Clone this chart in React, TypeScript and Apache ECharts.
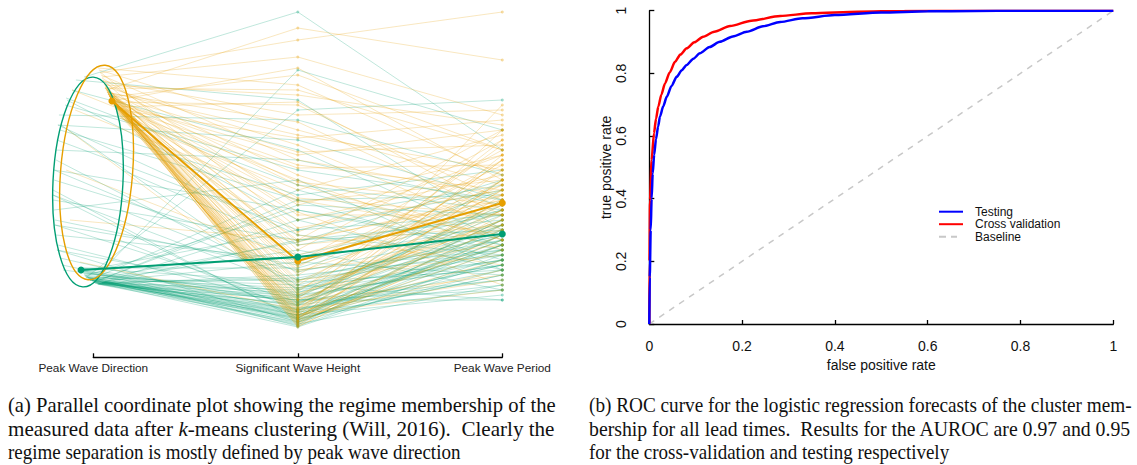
import React, { useEffect, useRef } from "react";
import * as echarts from "echarts";

// ---------- Left panel: parallel coordinates ----------
const AXES = ["Peak Wave Direction", "Significant Wave Height", "Peak Wave Period"];

// Regime 1 (orange): start point on the direction "ellipse" (axis-offset, value), then Hs, Tp (normalised 0-320)
const orangeDirX = [0.091, 0.082, 0.072, 0.101, 0.062, 0.106, 0.087, 0.077, 0.096, 0.052, 0.116, 0.067, 0.091, 0.082, 0.057, 0.111, 0.072, 0.047, 0.091, 0.121, 0.062, 0.033, 0.101, 0.077, 0.043, 0.087, 0.131, 0.067, 0.052, 0.096, 0.038, 0.082, 0.062, 0.106, 0.028, 0.072, 0.047, 0.091, 0.057, 0.023, 0.082, 0.043, 0.067, 0.033, -0.124, -0.133, -0.114, -0.089, -0.065, -0.104, 0.101, 0.087, 0.077, 0.096, 0.072, 0.111, 0.057, 0.091, 0.082, 0.062,
  0.077, 0.087, 0.096, 0.067, 0.106, 0.057, 0.091, 0.082, 0.072, 0.101, 0.077, 0.087, 0.096, 0.067, 0.106, 0.057, 0.091, 0.082, 0.072, 0.101, 0.077, 0.087, 0.096, 0.067, 0.106, 0.057, 0.091, 0.082, 0.072, 0.101];
const orangeDir = [229, 233, 237, 226, 242, 222, 231, 235, 228, 246, 218, 240, 230, 234, 244, 220, 238, 250, 227, 215, 241, 258, 224, 236, 252, 232, 212, 239, 247, 225, 255, 235, 243, 221, 260, 237, 249, 228, 245, 262, 233, 253, 240, 257, 200, 160, 110, 220, 68, 240, 225, 230, 234, 227, 236, 219, 243, 229, 232, 240,
  234, 231, 227, 238, 223, 242, 229, 233, 236, 226, 234, 231, 227, 238, 223, 242, 229, 233, 236, 226, 234, 231, 227, 238, 223, 242, 229, 233, 236, 226];
const orangeHs = [10, 12, 15, 18, 20, 8, 25, 30, 14, 35, 40, 45, 50, 55, 60, 68, 75, 80, 85, 90, 95, 102, 110, 118, 125, 132, 140, 148, 155, 162, 170, 178, 185, 192, 200, 208, 215, 225, 235, 245, 255, 273, 302, 290, 30, 70, 90, 130, 20, 150, 12, 22, 28, 33, 7, 16, 38, 42, 65, 5,
  6, 9, 4, 11, 13, 17, 19, 23, 26, 3, 31, 36, 48, 58, 63, 72, 88, 98, 115, 128, 145, 165, 175, 195, 228, 240, 262, 9, 14, 21];
const orangeTp = [80, 110, 70, 130, 50, 90, 140, 100, 60, 120, 150, 160, 75, 170, 85, 180, 130, 190, 105, 200, 65, 140, 155, 45, 175, 115, 195, 125, 90, 165, 135, 185, 100, 210, 145, 115, 220, 130, 205, 155, 180, 215, 270, 318, 110, 145, 130, 95, 170, 80, 135, 95, 55, 125, 150, 40, 185, 105, 135, 120,
  115, 150, 95, 175, 130, 85, 160, 120, 140, 105, 190, 110, 145, 125, 165, 100, 135, 175, 115, 150, 90, 140, 200, 160, 120, 180, 150, 200, 225, 170];

// Regime 2 (green)
const greenDirX = [-0.06, -0.041, -0.016, 0.008, 0.033, -0.026, -0.006, 0.018, -0.05, 0.043, -0.036, 0.003, 0.028, -0.065, 0.057, -0.021, -0.011, -0.045, 0.013, -0.031, -0.001, 0.023, -0.055, 0.038, -0.041, 0.008, -0.016, 0.047, -0.026, 0.003, -0.187, -0.197, -0.182, -0.163, -0.138, -0.104, -0.173, -0.192, -0.153, -0.178, -0.168, -0.085, -0.045, -0.192, -0.182, -0.158, -0.129, -0.197, -0.187, -0.148, 0.14, 0.135, 0.126, 0.145, -0.006, -0.031, 0.008, 0.028, -0.045, 0.018,
  -0.055, -0.036, -0.016, 0.003, 0.023, 0.043, -0.065, 0.052, -0.055, -0.036, -0.016, 0.003, 0.023, 0.043, -0.065, 0.052, -0.187, -0.192, -0.173, -0.197, -0.178, -0.133, -0.163, -0.187, -0.192, -0.173, -0.197, -0.178, -0.016, 0.003];
const greenDir = [60, 54, 50, 47, 46, 52, 49, 46, 57, 47, 53, 48, 46, 62, 49, 51, 50, 55, 47, 52, 49, 46, 59, 47, 54, 48, 50, 48, 52, 48, 110, 130, 170, 200, 225, 240, 85, 150, 65, 190, 215, 250, 253, 120, 95, 205, 230, 140, 180, 60, 160, 120, 90, 190, 49, 53, 47, 46, 56, 47,
  59, 53, 50, 48, 46, 47, 62, 48, 59, 53, 50, 48, 46, 47, 62, 48, 105, 160, 205, 135, 80, 232, 72, 105, 160, 205, 135, 80, 50, 48];
const greenHs = [10, 15, 20, 25, 30, 12, 18, 8, 35, 40, 45, 50, 55, 62, 68, 5, 22, 28, 32, 42, 80, 90, 100, 110, 120, 130, 140, 15, 24, 34, 60, 90, 45, 130, 160, 180, 25, 75, 15, 100, 210, 230, 318, 150, 70, 40, 110, 10, 170, 30, 85, 50, 20, 135, 260, 220, 30, 12, 38, 52,
  4, 7, 11, 14, 17, 21, 27, 6, 33, 9, 19, 3, 26, 13, 48, 37, 28, 58, 95, 12, 8, 145, 18, 65, 120, 190, 42, 35, 88, 125];
const greenTp = [70, 90, 60, 80, 50, 100, 40, 85, 65, 110, 30, 95, 75, 120, 55, 105, 45, 125, 70, 90, 40, 100, 115, 60, 80, 135, 85, 35, 150, 65, 80, 110, 95, 70, 130, 90, 50, 120, 85, 140, 155, 100, 180, 60, 105, 75, 145, 95, 125, 40, 115, 80, 65, 160, 200, 230, 30, 55, 70, 90,
  75, 95, 55, 110, 85, 65, 100, 45, 120, 80, 130, 70, 105, 90, 60, 115, 85, 100, 75, 110, 60, 120, 95, 140, 85, 130, 70, 105, 150, 115];

// Cluster centroids: [dir offset, dir value, Hs, Tp]
const orangeMean = [0.091, 229, 69, 127];
const greenMean = [-0.06, 60, 73, 96];

// Direction ellipses: [centre offset, centre value, radius (axis units), radius (value), rotation]
const ellipses = [
  [-0.026, 148, 0.171, 105, -0.05],
  [0.016, 157.5, 0.176, 107.5, -0.08],
];

// ---------- Right panel: ROC ----------
const testingROC = [[0, 0], [0.001, 0.15], [0.003, 0.3], [0.005, 0.4], [0.0073, 0.48], [0.0105, 0.54], [0.0144, 0.59], [0.019, 0.63], [0.023, 0.662], [0.03, 0.695], [0.0375, 0.725], [0.048, 0.76], [0.059, 0.789], [0.07, 0.81], [0.0806, 0.827], [0.095, 0.847], [0.109, 0.864], [0.13, 0.884], [0.152, 0.901], [0.18, 0.918], [0.21, 0.933], [0.245, 0.95], [0.282, 0.964], [0.33, 0.976], [0.4, 0.986], [0.5, 0.994], [0.6, 0.998], [0.7, 0.999], [0.8, 1], [1, 1]];
const crossValROC = [[0, 0], [0.0005, 0.2], [0.0015, 0.396], [0.005, 0.523], [0.0101, 0.609], [0.0145, 0.655], [0.0194, 0.694], [0.026, 0.732], [0.0338, 0.768], [0.044, 0.803], [0.0554, 0.837], [0.067, 0.86], [0.0806, 0.88], [0.097, 0.899], [0.116, 0.917], [0.14, 0.933], [0.174, 0.951], [0.22, 0.968], [0.282, 0.983], [0.35, 0.992], [0.45, 0.997], [0.55, 0.999], [0.7, 1], [1, 1]];
const baselineROC = [[0, 0], [1, 1]];

const captionA = [
  "(a) Parallel coordinate plot showing the regime membership of the",
  "measured data after {i|k}-means clustering (Will, 2016).  Clearly the",
  "regime separation is mostly defined by peak wave direction",
];
const captionB = [
  "(b) ROC curve for the logistic regression forecasts of the cluster mem-",
  "bership for all lead times.  Results for the AUROC are 0.97 and 0.95",
  "for the cross-validation and testing respectively",
];

const ORANGE = "#E69F00";
const GREEN = "#009E73";

function buildLines(dx: number[], dy: number[], hs: number[], tp: number[]) {
  return dx.map((x, i) => ({ coords: [[x, dy[i]], [1, hs[i]], [2, tp[i]]] }));
}
function buildDots(hs: number[], tp: number[]) {
  const out: number[][] = [];
  hs.forEach((h, i) => {
    out.push([1, h]);
    out.push([2, tp[i]]);
  });
  return out;
}

export default function App() {
  const ref = useRef<HTMLDivElement>(null);
  useEffect(() => {
    if (!ref.current) return;
    const chart = echarts.init(ref.current, null, { renderer: "svg" });

    const capFont = 20.5;
    const lastScale = 19 / 20.5;
    const capFamily = "'Liberation Serif', 'Times New Roman', serif";
    const canvas = document.createElement("canvas");
    const ctx = canvas.getContext("2d")!;
    ctx.font = `${capFont}px ${capFamily}`;
    const capLines: any[] = [];
    const addCaption = (lines: string[], x: number, width: number) => {
      const ys = [405, 429, 452];
      lines.forEach((t, i) => {
        const plain = t.replace(/\{i\|(.*?)\}/g, "$1");
        const w = ctx.measureText(plain).width;
        const sx = i < lines.length - 1 ? width / w : lastScale;
        capLines.push({
          type: "text",
          x,
          y: ys[i],
          scaleX: sx,
          silent: true,
          style: {
            text: t,
            fontSize: capFont,
            fontFamily: capFamily,
            fill: "#111",
            align: "left",
            verticalAlign: "middle",
            rich: {
              i: { fontStyle: "italic", fontSize: capFont, fontFamily: capFamily, fill: "#111" },
            },
          },
        });
      });
    };
    addCaption(captionA, 8, 548);
    addCaption(captionB, 589, 543);

    const axisCol = "#000";
    const lineIcon = "path://M0,0H24V2H0Z";
    const dashIcon = "path://M0,0H7V2H0Z M12,0H18V2H12Z M24,0V2Z";
    const option: any = {
      animation: false,
      textStyle: { fontFamily: "'Liberation Sans', Arial, sans-serif" },
      grid: [
        { left: 42.175, top: 10, width: 460.125, height: 320 },
        { left: 93.3, top: 10, width: 409, height: 347.3 },
        { left: 649.3, top: 10.7, width: 464, height: 313.3 },
      ],
      xAxis: [
        { gridIndex: 0, type: "value", min: -0.25, max: 2, show: false },
        {
          gridIndex: 1,
          type: "category",
          data: AXES,
          boundaryGap: false,
          axisLine: { lineStyle: { color: axisCol, width: 1.3 } },
          axisTick: { inside: true, length: 4, lineStyle: { color: axisCol, width: 1.3 } },
          axisLabel: { fontSize: 11.8, color: "#222", margin: 5, interval: 0 },
          splitLine: { show: false },
        },
        {
          gridIndex: 2,
          type: "value",
          min: 0,
          max: 1,
          interval: 0.2,
          offset: 11.7,
          name: "false positive rate",
          nameLocation: "middle",
          nameGap: 22,
          nameTextStyle: { fontSize: 14, color: "#111" },
          axisLine: { lineStyle: { color: axisCol, width: 1.3 } },
          axisTick: { inside: true, length: 4, lineStyle: { color: axisCol, width: 1.3 } },
          axisLabel: { fontSize: 14, color: "#111", margin: 3 },
          splitLine: { show: false },
        },
      ],
      yAxis: [
        { gridIndex: 0, type: "value", min: 0, max: 320, show: false },
        { gridIndex: 1, type: "value", min: 0, max: 1, show: false },
        {
          gridIndex: 2,
          type: "value",
          min: 0,
          max: 1,
          interval: 0.2,
          offset: 17.6,
          name: "true positive rate",
          nameLocation: "middle",
          nameGap: 17,
          nameTextStyle: { fontSize: 14, color: "#111" },
          axisLine: { show: true, lineStyle: { color: axisCol, width: 1.3 } },
          axisTick: { show: true, inside: true, length: 5, lineStyle: { color: axisCol, width: 1.3 } },
          axisLabel: { fontSize: 14, color: "#111", margin: 4, rotate: 90 },
          splitLine: { show: false },
        },
      ],
      legend: {
        data: [
          { name: "Testing", icon: lineIcon },
          { name: "Cross validation", icon: lineIcon },
          { name: "Baseline", icon: dashIcon },
        ],
        orient: "vertical",
        left: 939,
        top: 205.7,
        padding: 0,
        itemGap: 0.5,
        itemWidth: 24,
        itemHeight: 2,
        symbolKeepAspect: false,
        selectedMode: false,
        textStyle: { fontSize: 12, color: "#111", lineHeight: 12, padding: [0, 0, 0, 7] },
      },
      graphic: capLines,
      series: [
        {
          type: "lines",
          coordinateSystem: "cartesian2d",
          xAxisIndex: 0,
          yAxisIndex: 0,
          polyline: true,
          silent: true,
          data: buildLines(greenDirX, greenDir, greenHs, greenTp),
          lineStyle: { color: GREEN, width: 1, opacity: 0.25 },
        },
        {
          type: "lines",
          coordinateSystem: "cartesian2d",
          xAxisIndex: 0,
          yAxisIndex: 0,
          polyline: true,
          silent: true,
          data: buildLines(orangeDirX, orangeDir, orangeHs, orangeTp),
          lineStyle: { color: ORANGE, width: 1, opacity: 0.25 },
        },
        {
          type: "scatter",
          xAxisIndex: 0,
          yAxisIndex: 0,
          silent: true,
          symbolSize: 3,
          data: buildDots(greenHs, greenTp),
          itemStyle: { color: GREEN, opacity: 0.35 },
        },
        {
          type: "scatter",
          xAxisIndex: 0,
          yAxisIndex: 0,
          silent: true,
          symbolSize: 3,
          data: buildDots(orangeHs, orangeTp),
          itemStyle: { color: ORANGE, opacity: 0.35 },
        },
        {
          type: "custom",
          xAxisIndex: 0,
          yAxisIndex: 0,
          clip: false,
          silent: true,
          data: ellipses,
          renderItem: (params: any, api: any) => {
            const c = api.coord([api.value(0), api.value(1)]);
            const s = api.size([api.value(2), api.value(3)]);
            return {
              type: "ellipse",
              x: c[0],
              y: c[1],
              rotation: api.value(4),
              shape: { cx: 0, cy: 0, rx: s[0], ry: s[1] },
              style: { fill: "none", stroke: params.dataIndex === 0 ? GREEN : ORANGE, lineWidth: 1.4 },
            };
          },
        },
        {
          type: "line",
          xAxisIndex: 0,
          yAxisIndex: 0,
          silent: true,
          data: [[orangeMean[0], orangeMean[1]], [1, orangeMean[2]], [2, orangeMean[3]]],
          symbol: "circle",
          symbolSize: 7,
          lineStyle: { color: ORANGE, width: 2 },
          itemStyle: { color: ORANGE },
          z: 5,
        },
        {
          type: "line",
          xAxisIndex: 0,
          yAxisIndex: 0,
          silent: true,
          data: [[greenMean[0], greenMean[1]], [1, greenMean[2]], [2, greenMean[3]]],
          symbol: "circle",
          symbolSize: 7,
          lineStyle: { color: GREEN, width: 2 },
          itemStyle: { color: GREEN },
          z: 5,
        },
        {
          type: "line",
          name: "Baseline",
          xAxisIndex: 2,
          yAxisIndex: 2,
          data: baselineROC,
          symbol: "none",
          itemStyle: { color: "#c8c8c8" },
          lineStyle: { color: "#c8c8c8", width: 1.5, type: [6, 6] },
        },
        {
          type: "line",
          name: "Cross validation",
          xAxisIndex: 2,
          yAxisIndex: 2,
          data: crossValROC,
          symbol: "none",
          smooth: 0.25,
          smoothMonotone: "x",
          itemStyle: { color: "#ff0000" },
          lineStyle: { color: "#ff0000", width: 2.5 },
        },
        {
          type: "line",
          name: "Testing",
          xAxisIndex: 2,
          yAxisIndex: 2,
          data: testingROC,
          symbol: "none",
          smooth: 0.25,
          smoothMonotone: "x",
          itemStyle: { color: "#0000ff" },
          lineStyle: { color: "#0000ff", width: 2.5 },
        },
      ],
    };
    chart.setOption(option);
    return () => chart.dispose();
  }, []);

  return (
    <div style={{ position: "absolute", left: 0, top: 0, width: 1137, height: 465, background: "#fff" }}>
      <div ref={ref} style={{ width: 1137, height: 465 }} />
    </div>
  );
}
